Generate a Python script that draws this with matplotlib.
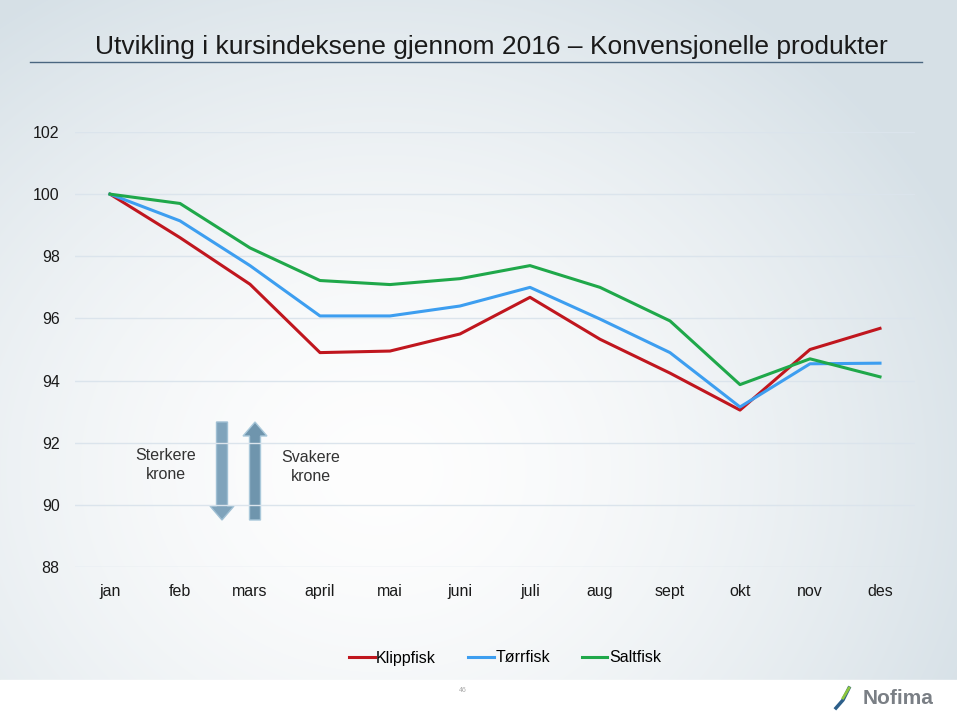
import numpy as np
import matplotlib.pyplot as plt
from matplotlib.patches import FancyArrow, Rectangle
from matplotlib.lines import Line2D

months = ['jan', 'feb', 'mars', 'april', 'mai', 'juni', 'juli', 'aug', 'sept', 'okt', 'nov', 'des']
klippfisk = [100.0, 98.6, 97.1, 94.9, 94.95, 95.5, 96.68, 95.33, 94.24, 93.05, 95.0, 95.68]
torrfisk = [100.0, 99.14, 97.7, 96.08, 96.08, 96.4, 97.0, 95.98, 94.9, 93.15, 94.54, 94.56]
saltfisk = [100.0, 99.7, 98.27, 97.22, 97.09, 97.28, 97.7, 97.0, 95.92, 93.87, 94.7, 94.12]
yticks = [88, 90, 92, 94, 96, 98, 100, 102]

plt.rcParams['font.family'] = ['Liberation Sans', 'DejaVu Sans']

W, H = 957, 718
fig = plt.figure(figsize=(W / 100, H / 100), dpi=100)

# background gradient
bg = fig.add_axes([0, 0, 1, 1])
bg.set_xlim(0, W)
bg.set_ylim(H, 0)
bg.axis('off')
yy, xx = np.mgrid[0:680, 0:W]
d = np.sqrt(((xx - 380) / 640.0) ** 2 + ((yy - 470) / 560.0) ** 2)
d = np.clip(d, 0, 1)
c0 = np.array([0.995, 0.995, 0.995])
c1 = np.array([0.84, 0.88, 0.905])
img = c0[None, None, :] * (1 - d[..., None] ** 1.6) + c1[None, None, :] * (d[..., None] ** 1.6)
bg.imshow(img, extent=[0, W, 680, 0], aspect='auto', zorder=0)
bg.add_patch(Rectangle((0, 680), W, 38, color='white', zorder=1))

# title and rule
bg.text(491, 47, 'Utvikling i kursindeksene gjennom 2016 \u2013 Konvensjonelle produkter',
        ha='center', va='center', fontsize=19, color='#1a1a1a', zorder=2)
bg.plot([30, 922], [62, 62], color='#4a6680', lw=1.0, zorder=2)

# arrows
bg.add_patch(FancyArrow(222, 422, 0, 98, width=11, head_width=24, head_length=14,
                        length_includes_head=True, color='#7fa3bb', ec='#9fbfd3', zorder=2))
bg.add_patch(FancyArrow(255, 520, 0, -98, width=11, head_width=24, head_length=14,
                        length_includes_head=True, color='#6f95ad', ec='#a9c8da', zorder=2))
bg.text(166, 465, 'Sterkere\nkrone', ha='center', va='center', fontsize=11.5,
        color='#333333', linespacing=1.3, zorder=2)
bg.text(311, 467, 'Svakere\nkrone', ha='center', va='center', fontsize=11.5,
        color='#333333', linespacing=1.3, zorder=2)

# footer
bg.text(463, 691, '46', ha='center', va='center', fontsize=5, color='#aaaaaa', zorder=2)
bg.text(898, 698, 'Nofima', ha='center', va='center', fontsize=15, fontweight='bold',
        color='#7a7f85', zorder=2)
bg.plot([836, 843, 849], [708, 700, 688], color='#2d5f8a', lw=2.5, zorder=2)
bg.plot([843, 849], [698, 688], color='#8dc63f', lw=2, zorder=2)

# chart
ax = fig.add_axes([75 / W, (H - 567) / H, 840 / W, 435 / H])
ax.patch.set_alpha(0)
x = np.arange(len(months))
ax.plot(x, klippfisk, color='#c0161e', lw=2.2, label='Klippfisk')
ax.plot(x, torrfisk, color='#3d9ef0', lw=2.2, label='T\u00f8rrfisk')
ax.plot(x, saltfisk, color='#1fa84a', lw=2.2, label='Saltfisk')
ax.set_xlim(-0.5, len(months) - 0.5)
ax.set_ylim(88, 102)
ax.set_yticks(yticks)
ax.set_xticks(x)
ax.set_xticklabels(months)
ax.grid(axis='y', color='#dbe4ec', lw=1.0)
ax.set_axisbelow(True)
for s in ax.spines.values():
    s.set_visible(False)
ax.tick_params(length=0, labelsize=11.5, colors='#1a1a1a')
ax.tick_params(axis='x', pad=12)
ax.tick_params(axis='y', pad=11)

handles = [Line2D([], [], color=c, lw=2.2) for c in ['#c0161e', '#3d9ef0', '#1fa84a']]
fig.legend(handles, ['Klippfisk', 'T\u00f8rrfisk', 'Saltfisk'], loc='center',
           bbox_to_anchor=(505 / W, 1 - 658 / H), ncol=3, frameon=False, fontsize=11.5,
           handlelength=1.6, handletextpad=0.1, columnspacing=2.0)

fig.savefig('out.png', dpi=100)
